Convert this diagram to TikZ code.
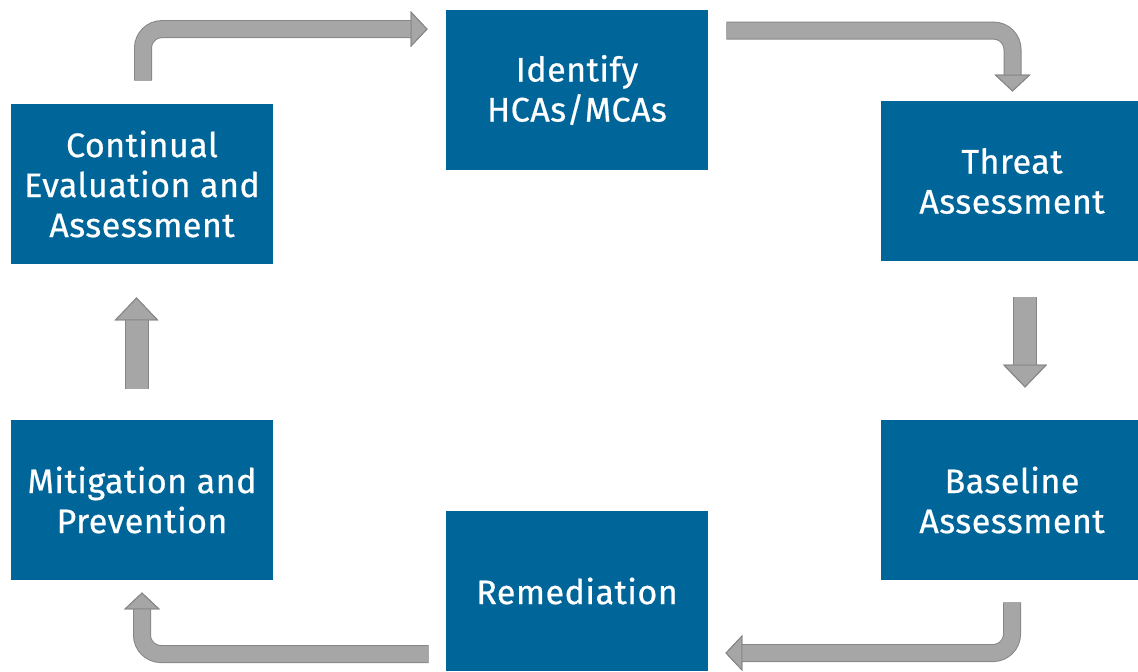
\documentclass[tikz,border=0pt]{standalone}
\usepackage{fontspec}
\setmainfont{Fira Sans}[LetterSpace=1.5, UprightFeatures={FakeBold=0.6}]
\usetikzlibrary{arrows.meta,calc}

\definecolor{boxblue}{HTML}{006699}
\definecolor{arrowfill}{HTML}{A6A6A6}
\definecolor{arrowline}{HTML}{868686}

\begin{document}
\begin{tikzpicture}[x=0.5pt,y=-0.5pt]
\tikzstyle{block} = [rectangle, fill=boxblue, text=white, minimum width=131pt,
minimum height=80pt, inner sep=0pt, align=center, font=\fontsize{17}{20}\selectfont]
\tikzstyle{flow} = [draw=arrowfill, line width=8pt, rounded corners=9.5pt,
-{Triangle[length=8.5pt,width=18pt,fill=arrowfill,color=arrowline,line width=0.5pt]},
preaction={draw=arrowline, line width=9pt}]
\tikzstyle{flow_wide} = [draw=arrowfill, line width=11pt,
-{Triangle[length=11.5pt,width=22pt,fill=arrowfill,color=arrowline,line width=0.5pt]},
preaction={draw=arrowline, line width=12pt}]

\useasboundingbox (0,0) rectangle (1138,671);
% left column
\node [block] (cont) at (142,184) {Continual\\Evaluation and\\Assessment};
\node [block] (mitig) at (142,500) {Mitigation and\\Prevention};
% middle column
\node [block] (ident) at (577,90) {Identify\\HCAs/MCAs};
\node [block] (remed) at (577,591) {Remediation};
% right column
\node [block] (threat) at (1012,181) {Threat\\Assessment};
\node [block] (base) at (1012,500) {Baseline\\Assessment};

% arrows round the cycle
\draw [flow, shorten <=11.5pt, shorten >=9pt] ($(cont.north)+(1,0)$) |- ($(ident.north west)+(0,19.5)$);
\draw [flow, shorten <=9pt, shorten >=4.5pt] ($(ident.north east)+(0,21)$) -| ($(threat.north)+(0.5,0)$);
\draw [flow_wide, shorten <=18pt, shorten >=16pt] ($(threat.south)+(13,0)$) -- ($(base.north)+(13,0)$);
\draw [flow, shorten <=11pt, shorten >=8.5pt] (base.south) |- ($(remed.east)+(0,62)$);
\draw [flow, shorten <=8.5pt, shorten >=6pt] ($(remed.west)+(0,63)$) -| (mitig.south);
\draw [flow_wide, shorten <=15.5pt, shorten >=16.5pt] ($(mitig.north)+(-5.5,0)$) -- ($(cont.south)+(-5.5,0)$);
\end{tikzpicture}
\end{document}
